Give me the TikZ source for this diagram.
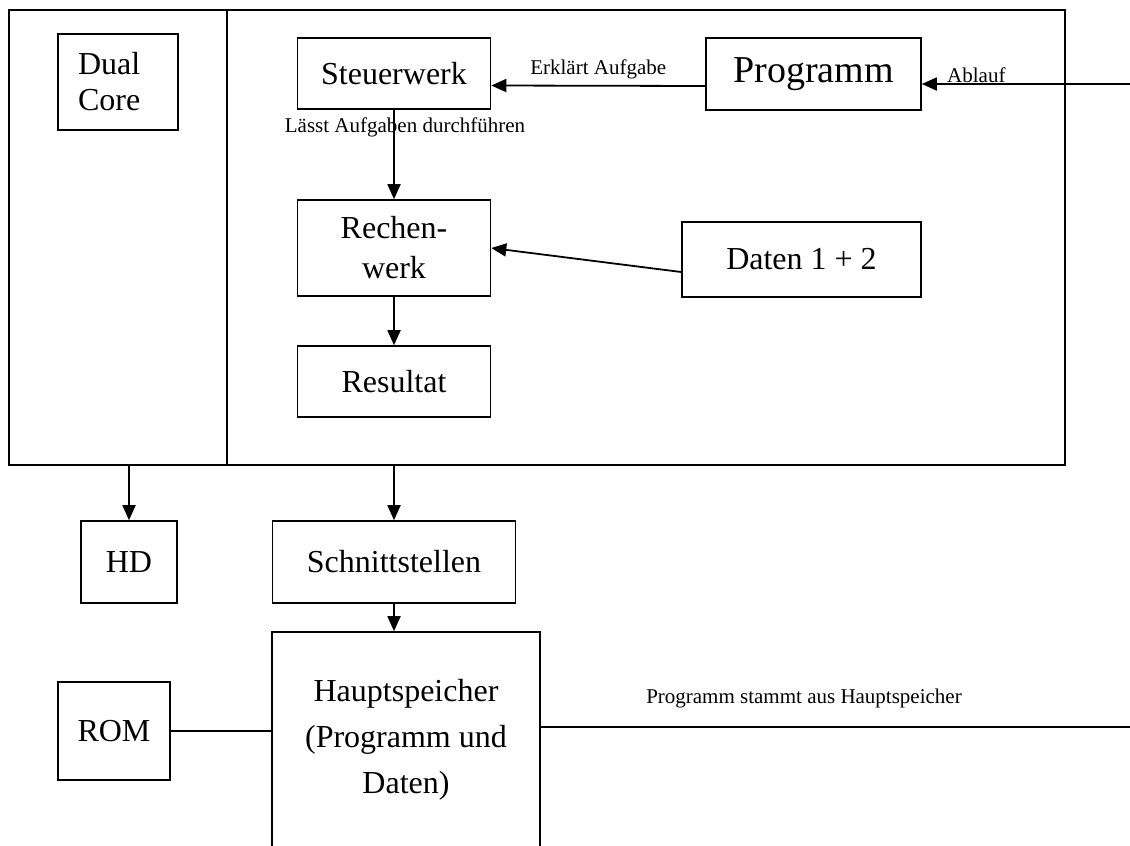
\documentclass[tikz,border=0pt]{standalone}
\usepackage{fontspec}
\setmainfont{Liberation Serif}
\usetikzlibrary{arrows.meta,positioning,calc}

\tikzset{
  block/.style={draw, line width=1.6pt, inner sep=2pt, align=center,
    font=\fontsize{32}{40}\selectfont},
  flow/.style={line width=1.8pt, -{Triangle[length=15pt,width=13pt]}},
  link/.style={line width=1.8pt},
  note/.style={font=\fontsize{21}{24}\selectfont, inner sep=0pt}
}

\begin{document}
\begin{tikzpicture}[x=1pt,y=-1pt]
	\useasboundingbox (0,0) rectangle (1130,846);
	% CPU frame
	\node[draw, line width=1.6pt, minimum width=1056pt, minimum height=455pt] (cpu) at (537,237.5) {};
	\coordinate (split) at (227,0);
	\draw[link] (cpu.north -| split) -- (cpu.south -| split);
	\node[block, align=left, text width=80pt, minimum width=120pt, minimum height=96pt, font=\fontsize{32}{36}\selectfont] (dual) at (118,82) {Dual\\Core};
	% inside the CPU
	\node[block, minimum width=193pt, minimum height=71pt] (steuer) at (394,73.5) {Steuerwerk};
	\node[block, minimum width=215pt, minimum height=72pt, font=\fontsize{38}{42}\selectfont] (prog) at (813.5,74) {Programm};
	\node[block, minimum width=193pt, minimum height=96pt] (rechen) at (394,248) {Rechen-\\werk};
	\node[block, minimum width=239pt, minimum height=75pt] (daten) at (801.5,259.5) {Daten 1 + 2};
	\node[block, minimum width=193pt, minimum height=71pt] (result) at (394,381.5) {Resultat};
	% outside the CPU
	\node[block, minimum width=96pt, minimum height=82pt] (hd) at (129,562) {HD};
	\node[block, minimum width=243pt, minimum height=82pt] (schnitt) at (394,562) {Schnittstellen};
	\node[block, minimum width=268pt, minimum height=216pt, font=\fontsize{32}{46}\selectfont] (haupt) at (406,740) {Hauptspeicher\\(Programm und\\Daten)};
	\node[block, minimum width=112pt, minimum height=98pt] (rom) at (114,731) {ROM};
	\coordinate (input) at (1130,84);
	\coordinate (output) at (1130,727);

	\draw[flow] (input) -- (prog.east |- input);
	\node[note, anchor=south west] (ablauf) at (947,83) {Ablauf};
	\draw[flow] ($(prog.west)+(0,12)$) -- ($(steuer.east)+(0,12)$)
		node[note, midway, above=6pt] (erkl) {Erklärt Aufgabe};
	\draw[flow] (steuer) -- (rechen);
	\node[note] (laesst) at (405,127) {Lässt Aufgaben durchführen};
	\draw[flow] ($(daten.west)+(0,12.5)$) -- (rechen.east);
	\draw[flow] (rechen) -- (result);
	\draw[flow] (cpu.south -| hd) -- (hd);
	\draw[flow] (cpu.south -| schnitt) -- (schnitt);
	\draw[flow] (schnitt) -- (haupt.north -| schnitt);
	\draw[link] (rom.east) -- (rom.east -| haupt.west);
	\draw[link] (haupt.east |- output) -- (output);
	\node[note] (stammt) at (804,698) {Programm stammt aus Hauptspeicher};
\end{tikzpicture}
\end{document}
